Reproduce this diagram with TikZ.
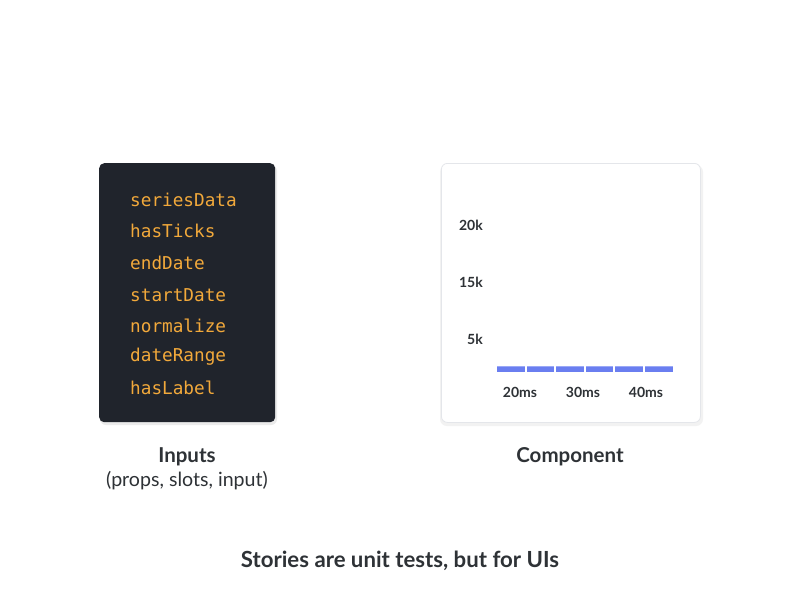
\documentclass[tikz,border=0pt]{standalone}
\usepackage{fontspec}
\setmainfont{Lato}
\newfontfamily\codefont{DejaVu Sans Mono}
\newfontfamily\uifont{Lato}
\usetikzlibrary{positioning}
\definecolor{panel}{HTML}{20242C}
\definecolor{codeor}{HTML}{F2A93B}
\definecolor{ink}{HTML}{2E3236}
\definecolor{barblue}{HTML}{6A7EF0}
\definecolor{barlight}{HTML}{9AA8F6}
\definecolor{edge}{HTML}{E4E6EA}
\tikzset{
  codeline/.style={anchor=west, text=codeor, font=\codefont\fontsize{17.7}{20}\selectfont, inner sep=0pt},
  axislabel/.style={text=ink, font=\uifont\bfseries\fontsize{14}{16}\selectfont, inner sep=0pt},
  caption/.style={text=ink, font=\uifont\bfseries\fontsize{20.5}{24}\selectfont, inner sep=0pt},
  subcaption/.style={text=ink, font=\uifont\fontsize{19.6}{22}\selectfont, inner sep=0pt},
  barseg/.style={fill=barblue, draw=none},
}
\begin{document}
\begin{tikzpicture}[x=1pt,y=-1pt]
\useasboundingbox (0,0) rectangle (800,600);
\fill[white] (0,0) rectangle (800,600);
% inputs panel
\fill[black!8, rounded corners=6pt] (100,165) rectangle (277,425);
\node[fill=panel, rounded corners=5pt, minimum width=176pt, minimum height=259pt, inner sep=0pt, anchor=north west] (inputs) at (99,163) {};
\foreach \t/\y [count=\i] in {seriesData/200, hasTicks/231, endDate/263, startDate/295, normalize/326, dateRange/357, hasLabel/388}
  \node[codeline] (c\i) at (130,\y) {\t};
% component panel
\fill[black!5, rounded corners=7pt] (440,165) rectangle (703,426);
\node[fill=white, draw=edge, line width=0.8pt, rounded corners=6pt, minimum width=259pt, minimum height=259pt, inner sep=0pt, anchor=north west] (comp) at (441,163) {};
\node[axislabel, anchor=east] (y20) at (483,225) {20k};
\node[axislabel, anchor=east] (y15) at (483,282) {15k};
\node[axislabel, anchor=east] (y5) at (483,339) {5k};
\foreach \i in {0,...,5} {
  \fill[barseg] ({497+\i*29.6},366) rectangle ({497+\i*29.6+27.6},372);
  \fill[barlight] ({497+\i*29.6},366) rectangle ({497+\i*29.6+27.6},367.2);
}
\node[axislabel] (x20) at (520,392) {20ms};
\node[axislabel] (x30) at (583,392) {30ms};
\node[axislabel] (x40) at (646,392) {40ms};
% captions
\node[caption] (incap) at (187,456.5) {Inputs};
\node[subcaption] (insub) at (187,481) {(props, slots, input)};
\node[caption] (compcap) at (570,456.5) {Component};
\node[text=ink, font=\uifont\bfseries\fontsize{22.2}{26}\selectfont, inner sep=0pt] (title) at (400,560.5) {Stories are unit tests, but for UIs};
\end{tikzpicture}
\end{document}
